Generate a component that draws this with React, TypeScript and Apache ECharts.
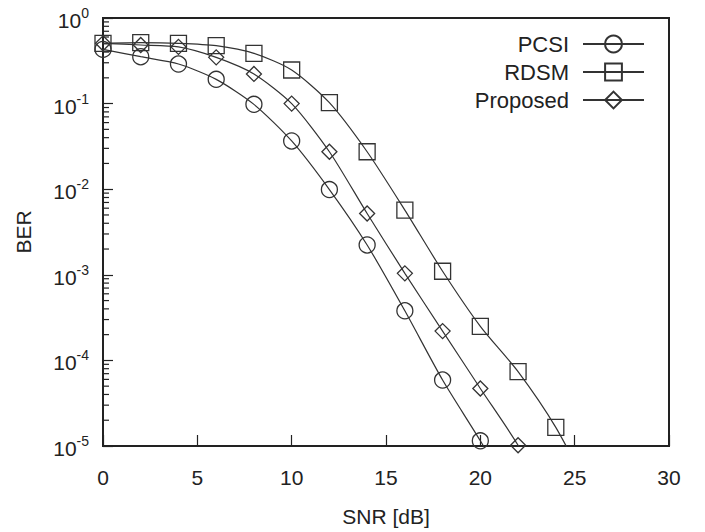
import React, { useEffect, useRef } from "react";
import * as echarts from "echarts";

const snr = [0, 2, 4, 6, 8, 10, 12, 14, 16, 18, 20, 22, 24];
const pcsi = [0.43, 0.353, 0.29, 0.192, 0.098, 0.0366, 0.0099, 0.00223, 3.8e-4, 5.9e-5, 1.15e-5];
const rdsm = [0.506, 0.515, 0.506, 0.475, 0.386, 0.247, 0.1026, 0.0274, 0.0057, 0.0011, 2.5e-4, 7.4e-5, 1.65e-5];
const proposed = [0.506, 0.484, 0.46, 0.347, 0.222, 0.1, 0.0274, 0.0052, 0.00104, 2.2e-4, 4.7e-5, 1.02e-5];
// curve continuation below the plotted range (clipped at the axis)
const pcsiTail = [22, 2.0e-6];
const rdsmTail = [26, 2.4e-6];
const proposedTail = [24, 1.6e-6];
const xTicks = [0, 5, 10, 15, 20, 25, 30];
const minorTicks: number[] = [];
for (let d = -5; d <= -1; d++) for (let k = 2; k <= 9; k++) minorTicks.push(k * Math.pow(10, d));

const INK = "#222";

function build(values: number[], tail: number[]) {
  const pts: any[] = values.map((v, i) => [snr[i], v]);
  pts.push({ value: tail, symbol: "none" });
  return pts;
}

export default function App() {
  const ref = useRef<HTMLDivElement>(null);
  useEffect(() => {
    const chart = echarts.init(ref.current!, undefined, { renderer: "svg" });
    const font = "Liberation Sans, Arial, sans-serif";
    const mk = (name: string, vals: number[], tail: number[], symbol: string, size: number) => ({
      name,
      type: "line",
      data: build(vals, tail),
      smooth: 0.25,
      clip: true,
      symbol,
      symbolSize: size,
      showSymbol: true,
      lineStyle: { color: "#333", width: 1.2 },
      itemStyle: { color: "rgba(0,0,0,0)", borderColor: "#333", borderWidth: 1.3 },
      emphasis: { disabled: true },
      z: 3,
    });
    chart.setOption({
      animation: false,
      textStyle: { fontFamily: font },
      grid: { left: 103, top: 18, right: 36, bottom: 86, show: true, borderColor: INK, borderWidth: 2, backgroundColor: "transparent" },
      legend: {
        orient: "vertical",
        right: 55,
        top: 28,
        align: "right",
        itemWidth: 61,
        itemHeight: 21,
        itemGap: 6,
        data: ["PCSI", "RDSM", "Proposed"],
        textStyle: { fontSize: 22, color: INK, fontFamily: font, lineHeight: 22, padding: [0, 9, 0, 0] },
        selectedMode: false,
      },
      xAxis: {
        type: "value",
        min: 0,
        max: 30,
        interval: 5,
        name: "SNR [dB]",
        nameLocation: "middle",
        nameGap: 60,
        nameTextStyle: { fontSize: 21, color: INK, fontFamily: font },
        axisLine: { lineStyle: { color: INK, width: 2 } },
        axisTick: { inside: true, length: 11, lineStyle: { color: INK, width: 1.2 } },
        axisLabel: { fontSize: 21, color: INK, margin: 21, fontFamily: font, formatter: (v: number) => (xTicks.includes(v) ? String(v) : "") },
        splitLine: { show: false },
      },
      yAxis: {
        type: "log",
        logBase: 10,
        min: 1e-5,
        max: 1,
        name: "BER",
        nameLocation: "middle",
        nameGap: 69,
        nameTextStyle: { fontSize: 21, color: INK, fontFamily: font },
        axisLine: { lineStyle: { color: INK, width: 2 } },
        axisTick: { inside: true, length: 10, lineStyle: { color: INK, width: 1.2 } },
        axisLabel: {
          margin: 14,
          color: INK,
          fontFamily: font,
          formatter: (v: number) => "{b|10}{s|" + Math.round(Math.log10(v)) + "}",
          rich: {
            b: { fontSize: 21, color: INK, fontFamily: font, verticalAlign: "bottom", lineHeight: 26 },
            s: { fontSize: 14, color: INK, fontFamily: font, verticalAlign: "bottom", lineHeight: 26, padding: [0, 0, 11, 0] },
          },
        },
        splitLine: { show: false },
      },
      series: [
        mk("PCSI", pcsi, pcsiTail, "circle", 16),
        mk("RDSM", rdsm, rdsmTail, "rect", 16),
        mk("Proposed", proposed, proposedTail, "diamond", 15),
        {
          type: "custom",
          silent: true,
          data: minorTicks.map((v) => [0, v]),
          renderItem: (_p: any, api: any) => {
            const pt = api.coord([api.value(0), api.value(1)]);
            return {
              type: "line",
              shape: { x1: pt[0], y1: pt[1], x2: pt[0] + 6, y2: pt[1] },
              style: { stroke: INK, lineWidth: 1.2 },
            };
          },
          z: 2,
        },
      ],
    });
    return () => chart.dispose();
  }, []);
  return <div ref={ref} style={{ width: 705, height: 532, position: "absolute", left: 0, top: 0 }} />;
}
